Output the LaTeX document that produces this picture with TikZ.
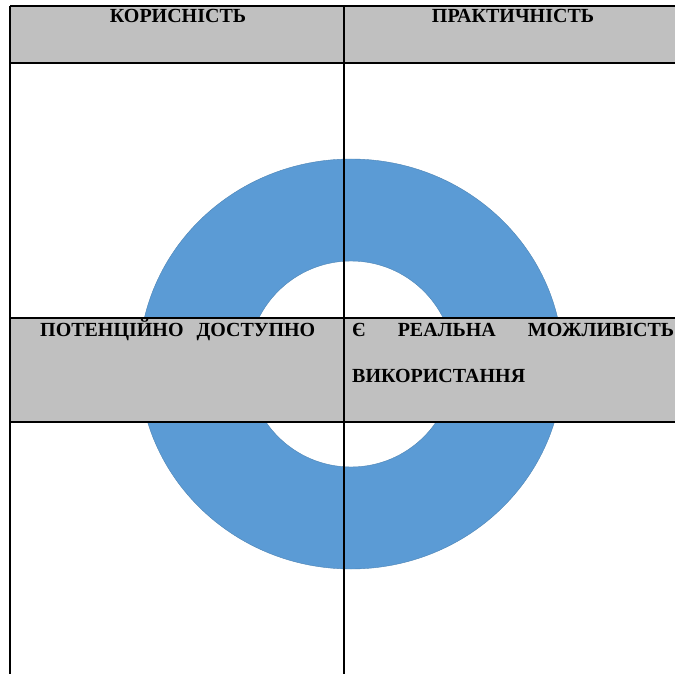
\documentclass[tikz,border=0pt]{standalone}
\usepackage{fontspec}
\setmainfont{Liberation Serif}
\definecolor{cellgray}{HTML}{C0C0C0}
\definecolor{ringblue}{HTML}{5B9BD5}
\begin{document}
\begin{tikzpicture}[x=1pt,y=-1pt,
  gridline/.style={line width=1.3pt, black},
  cell/.style={fill=cellgray},
  lbl/.style={inner sep=0pt, font=\fontsize{20}{24}\selectfont\bfseries}]
\useasboundingbox (0,0) rectangle (675,674);
\clip (0,0) rectangle (675,674);
\fill[white] (0,0) rectangle (675,674);
% ring
\fill[ringblue, even odd rule, draw=ringblue!85!black, line width=0.4pt]
  (351,364) ellipse [x radius=212, y radius=205]
  (351,364) circle [radius=103];
% gray rows
\fill[cell] (10,6) rectangle (690,63);
\fill[cell] (10,318) rectangle (690,422);
% grid lines
\draw[gridline] (10,6) -- (690,6);
\draw[gridline] (10,63) -- (690,63);
\draw[gridline] (10,318) -- (690,318);
\draw[gridline] (10,422) -- (690,422);
\draw[gridline] (10,6) -- (10,690);
\draw[gridline] (344,6) -- (344,690);
% texts
\node[lbl, anchor=base] (h1) at (178,23) {КОРИСНІСТЬ};
\node[lbl, anchor=base] (h2) at (513,23) {ПРАКТИЧНІСТЬ};
\node[lbl, anchor=base west] (t1) at (40,336) {\hbox to 275pt{ПОТЕНЦІЙНО\hfill ДОСТУПНО}};
\node[lbl, anchor=base west] (t2) at (352,336) {\hbox to 322pt{Є\hfill РЕАЛЬНА\hfill МОЖЛИВІСТЬ}};
\node[lbl, anchor=base west] (t3) at (352,382.5) {ВИКОРИСТАННЯ};
\end{tikzpicture}
\end{document}
